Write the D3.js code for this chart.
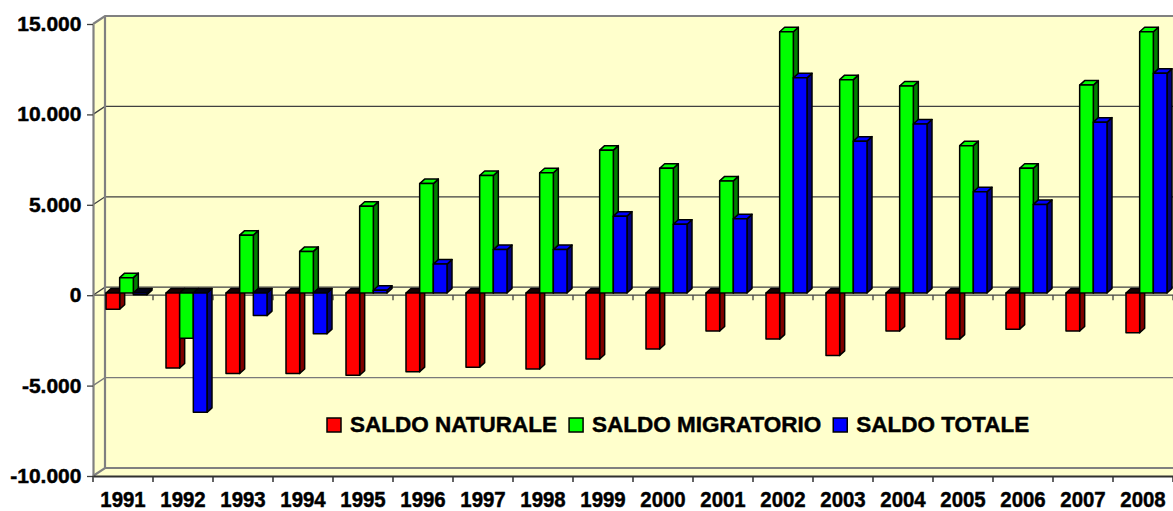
<!DOCTYPE html>
<html>
<head>
<meta charset="utf-8">
<script src="https://cdn.jsdelivr.net/npm/d3@7"></script>
<style>
  body { margin: 0; background: #fff; }
  svg text { font-family: "Liberation Sans", Arial, sans-serif; font-weight: bold; fill: #000; stroke: #000; stroke-width: 0.45px; }
</style>
</head>
<body>
<div id="chart"></div>
<script>
// data
const years = ["1991", "1992", "1993", "1994", "1995", "1996", "1997", "1998", "1999",
    "2000", "2001", "2002", "2003", "2004", "2005", "2006", "2007", "2008"]
const saldoNaturale = [-900, -4150, -4450, -4450, -4550, -4350, -4100, -4200, -3650,
    -3100, -2100, -2550, -3450, -2100, -2550, -2000, -2100, -2200]
const saldoMigratorio = [850, -2500, 3200, 2300, 4800, 6050, 6500, 6650, 7900,
    6900, 6200, 14450, 11800, 11450, 8150, 6900, 11500, 14450]
const saldoTotale = [-90, -6600, -1250, -2250, 150, 1600, 2400, 2400, 4250,
    3800, 4100, 11900, 8400, 9350, 5600, 4900, 9450, 12150]
const seriesNames = ["SALDO NATURALE", "SALDO MIGRATORIO", "SALDO TOTALE"]
const yTicks = [15000, 10000, 5000, 0, -5000, -10000]

function drawChart() {
    const seriesValues = [saldoNaturale, saldoMigratorio, saldoTotale]
    const colors = {
        "SALDO NATURALE": { front: "#ff0000", side: "#800000", under: "#1a0000" },
        "SALDO MIGRATORIO": { front: "#00ff00", side: "#008000", under: "#001a00" },
        "SALDO TOTALE": { front: "#0000ff", side: "#000080", under: "#00001a" },
    }

    const dimensions = {
        width: 1173,
        height: 511,
        margin: { top: 24, right: 0, bottom: 35, left: 93 },
    }
    dimensions.boundedWidth = dimensions.width - dimensions.margin.left - dimensions.margin.right
    dimensions.boundedHeight = dimensions.height - dimensions.margin.top - dimensions.margin.bottom

    // 3d offsets: wall depth and bar depth
    const wall = { dx: 12, dy: -8 }
    const bar = { dx: 5, dy: -4.5, shift: -2.2, lead: 13, group: 41 }

    const wrapper = d3.select("#chart")
        .append("svg")
        .attr("width", dimensions.width)
        .attr("height", dimensions.height)

    // scales
    const yScale = d3.scaleLinear()
        .domain([-10000, 15000])
        .range([dimensions.margin.top + dimensions.boundedHeight, dimensions.margin.top])
    const xScale = d3.scaleBand()
        .domain(years)
        .range([dimensions.margin.left, dimensions.margin.left + dimensions.boundedWidth])
    const seriesScale = d3.scaleBand()
        .domain(seriesNames)
        .range([0, bar.group])

    const x0 = dimensions.margin.left
    const x1 = dimensions.margin.left + dimensions.boundedWidth
    const yTop = yScale(15000)
    const yBottom = yScale(-10000)
    const poly = pts => "M" + pts.map(p => p.join(",")).join("L") + "Z"

    // walls
    const walls = wrapper.append("g")
    walls.append("path")
        .attr("d", poly([[x0 + wall.dx, yTop + wall.dy], [x1 + 20, yTop + wall.dy],
            [x1 + 20, yBottom + wall.dy], [x0 + wall.dx, yBottom + wall.dy]]))
        .attr("fill", "#ffffcc")
    walls.append("path")
        .attr("d", poly([[x0, yTop], [x0 + wall.dx, yTop + wall.dy],
            [x0 + wall.dx, yBottom + wall.dy], [x0, yBottom]]))
        .attr("fill", "#ffffcc")
    walls.append("path")
        .attr("d", poly([[x0, yBottom], [x0 + wall.dx, yBottom + wall.dy],
            [x1 + 20, yBottom + wall.dy], [x1 + 20, yBottom]]))
        .attr("fill", "#ffffcc")

    // gridlines on back wall and side wall
    const grid = wrapper.append("g")
    yTicks.forEach(v => {
        const edge = v === 15000 || v === -10000
        const y = yScale(v)
        grid.append("path")
            .attr("d", `M${x0},${y}L${x0 + wall.dx},${y + wall.dy}H${x1 + 20}`)
            .attr("fill", "none")
            .attr("stroke", edge ? "#808080" : (v === -5000 ? "#7a7a7a" : "#404040"))
            .attr("stroke-width", edge ? 2.2 : 1.3)
    })
    grid.append("line")
        .attr("x1", x0 + wall.dx).attr("x2", x0 + wall.dx)
        .attr("y1", yTop + wall.dy).attr("y2", yBottom + wall.dy)
        .attr("stroke", "#808080")
        .attr("stroke-width", 2.2)

    // front zero line with category ticks
    const boundaries = d3.range(years.length + 1).map(i => x0 + i * xScale.step())
    grid.append("line")
        .attr("x1", x0).attr("x2", x1)
        .attr("y1", yScale(0)).attr("y2", yScale(0))
        .attr("stroke", "#404040")
        .attr("stroke-width", 1.3)
    grid.selectAll(".zeroTick")
        .data(boundaries.slice(1))
        .enter()
        .append("line")
        .attr("x1", d => d).attr("x2", d => d)
        .attr("y1", yScale(0)).attr("y2", yScale(0) + 5)
        .attr("stroke", "#404040")
        .attr("stroke-width", 1.3)

    // bars
    const yBar = v => yScale(v) + bar.shift
    const bars = wrapper.append("g")
    years.forEach((year, i) => {
        seriesNames.forEach((name, s) => {
            const value = seriesValues[s][i]
            const c = colors[name]
            const left = xScale(year) + bar.lead + seriesScale(name)
            const w = seriesScale.bandwidth()
            const top = yBar(Math.max(value, 0))
            const bottom = yBar(Math.min(value, 0))
            const g = bars.append("g")
                .attr("stroke", "#000")
                .attr("stroke-width", 1.5)
                .attr("stroke-linejoin", "round")
            g.append("path")
                .attr("d", poly([[left + w, top], [left + w + bar.dx, top + bar.dy],
                    [left + w + bar.dx, bottom + bar.dy], [left + w, bottom]]))
                .attr("fill", c.side)
            g.append("path")
                .attr("d", poly([[left, top], [left + bar.dx, top + bar.dy],
                    [left + w + bar.dx, top + bar.dy], [left + w, top]]))
                .attr("fill", value >= 0 ? c.front : c.under)
            g.append("rect")
                .attr("x", left)
                .attr("y", top)
                .attr("width", w)
                .attr("height", Math.max(bottom - top, 0.5))
                .attr("fill", c.front)
        })
    })

    // axes
    const itLocale = d3.formatLocale({
        decimal: ",", thousands: ".", grouping: [3], currency: ["", " €"], minus: "-",
    })
    const yAxisGenerator = d3.axisLeft(yScale)
        .tickValues(yTicks)
        .tickFormat(itLocale.format(",d"))
        .tickSize(6)
        .tickSizeOuter(0)
        .tickPadding(5)
    const yAxis = wrapper.append("g")
        .attr("transform", `translate(${x0},0)`)
        .call(yAxisGenerator)
    yAxis.select(".domain").attr("stroke", "#808080").attr("stroke-width", 2.2)
    yAxis.selectAll(".tick line").attr("stroke", "#404040").attr("stroke-width", 1.3)
    yAxis.selectAll("text")
        .attr("font-size", 20)
        .attr("font-family", null)
        .attr("fill", "#000")
        .attr("transform", "scale(1.05,1)")

    const xAxisGenerator = d3.axisBottom(xScale)
        .tickSize(0)
        .tickSizeOuter(0)
        .tickPadding(16)
    const xAxis = wrapper.append("g")
        .attr("transform", `translate(0,${yBottom})`)
        .call(xAxisGenerator)
    xAxis.select(".domain").attr("stroke", "#303030").attr("stroke-width", 2)
    xAxis.selectAll("text")
        .attr("font-size", 21.5)
        .attr("font-family", null)
        .attr("fill", "#000")
        .attr("transform", "scale(0.95,1)")
    xAxis.selectAll(".catTick")
        .data(boundaries)
        .enter()
        .append("line")
        .attr("x1", d => d).attr("x2", d => d)
        .attr("y1", 0).attr("y2", 6)
        .attr("stroke", "#303030")
        .attr("stroke-width", 1.5)

    // legend
    const legend = wrapper.append("g")
        .attr("transform", "translate(327,418)")
    let cursor = 0
    seriesNames.forEach(name => {
        legend.append("rect")
            .attr("x", cursor)
            .attr("y", 0)
            .attr("width", 14)
            .attr("height", 14)
            .attr("fill", colors[name].front)
            .attr("stroke", "#000")
            .attr("stroke-width", 1.5)
        const label = legend.append("text")
            .attr("x", cursor + 23)
            .attr("y", 14)
            .attr("font-size", 22.5)
            .text(name)
        cursor += 23 + label.node().getComputedTextLength() + 12
    })
}

drawChart()
</script>
</body>
</html>
